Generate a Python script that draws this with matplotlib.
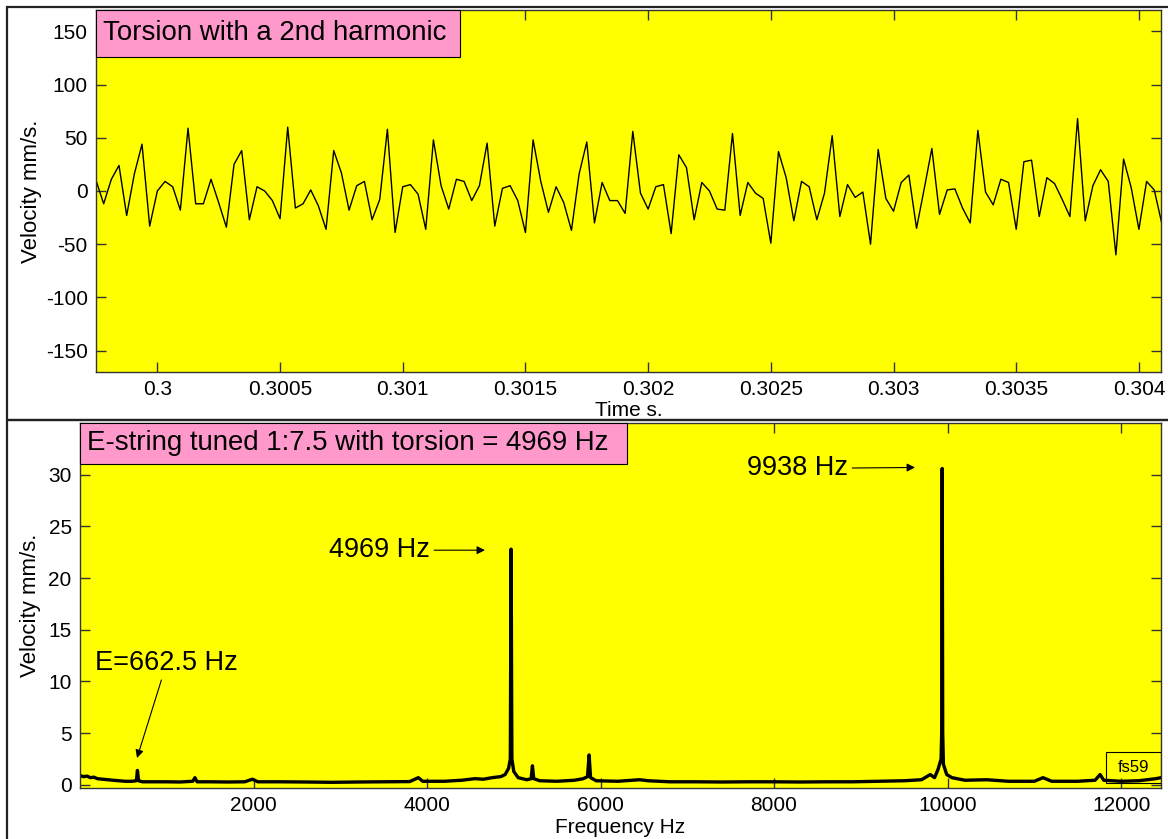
#!/usr/bin/env python3
"""Torsion waveform and its spectrum, two stacked panels."""

import matplotlib

matplotlib.use("Agg")
import matplotlib.pyplot as plt
import numpy as np
from matplotlib.patches import Rectangle

# ---- top panel: velocity samples (mm/s) ----
t_start = 0.29975
sample_rate = 32000.0
velocity = [
    10, -12, 11, 24, -23, 16, 44, -33, 0, 9, 4, -18, 59, -12, -12, 11, -11, -34,
    25, 38, -27, 4, 0, -9, -26, 60, -16, -12, 1, -14, -36, 38, 17, -18, 5, 9,
    -27, -8, 58, -39, 4, 6, -3, -36, 48, 5, -17, 11, 9, -9, 5, 45, -33, 2.5,
    5, -9, -39, 48, 9, -20, 4, -11, -37, 16, 46, -30, 8, -9, -9, -21, 56,
    -2, -17, 4, 6, -40, 34, 22, -27, 8, 0, -17, -18, 54, -23, 8, -2, -7, -49,
    37, 12.5, -28, 9, 4, -27, -2, 52, -24, 6, -6, -1, -50, 39, -7, -19, 8,
    15, -35, 2, 40, -22, 1, 2, -16, -30, 57, -1, -13, 11, 8, -36, 27.5, 29,
    -24, 12.5, 7, -8, -24, 68, -28, 5, 20, 9, -60, 30, 3, -36, 9, 1, -31,
]

# ---- bottom panel: spectrum (Hz, mm/s) ----
spec_freq = [
    0, 40, 80, 120, 160, 200, 260, 320, 380, 450, 520, 600, 650, 662, 675,
    720, 850, 1000, 1150, 1300, 1325, 1350, 1500, 1700, 1900, 1987, 2050,
    2300, 2600, 2900, 3200, 3500, 3800, 3900, 3950, 4200, 4400, 4550, 4650,
    4750, 4850, 4900, 4940, 4960, 4969, 4978, 5000, 5050, 5150, 5200, 5215,
    5230, 5300, 5500, 5700, 5800, 5850, 5868, 5885, 5950, 6200, 6450, 6550,
    6800, 7100, 7400, 7700, 8000, 8300, 8600, 8900, 9200, 9500, 9700, 9800,
    9850, 9890, 9925, 9932, 9938, 9944, 9952, 9990, 10050, 10200, 10450,
    10700, 11000, 11100, 11200, 11500, 11700, 11758, 11800, 12000, 12200,
    12400, 12460,
]
spec_amp = [
    0.9, 0.8, 0.85, 0.7, 0.75, 0.6, 0.55, 0.5, 0.45, 0.4, 0.35, 0.35, 0.4, 1.4, 0.4,
    0.3, 0.3, 0.3, 0.28, 0.35, 0.7, 0.3, 0.3, 0.28, 0.3, 0.55, 0.3,
    0.3, 0.28, 0.25, 0.28, 0.3, 0.32, 0.7, 0.35, 0.35, 0.45, 0.6, 0.55,
    0.7, 0.8, 1.0, 1.6, 2.5, 22.8, 2.5, 1.3, 0.7, 0.5, 0.6, 1.85,
    0.6, 0.4, 0.35, 0.45, 0.6, 0.8, 2.9, 0.7, 0.4, 0.35, 0.5, 0.4,
    0.3, 0.3, 0.28, 0.3, 0.3, 0.28, 0.3, 0.3, 0.35, 0.4, 0.5, 1.0,
    0.7, 1.5, 2.5, 5.0, 30.6, 5.0, 2.0, 1.0, 0.7, 0.45, 0.5,
    0.35, 0.35, 0.7, 0.35, 0.35, 0.45, 1.0, 0.45, 0.35, 0.4,
    0.6, 0.7,
]

YELLOW = "#ffff00"
PINK = "#ff99cc"
SPINE = "#333333"
FONT = ["Liberation Sans", "DejaVu Sans"]

plt.rcParams["font.family"] = FONT
plt.rcParams["axes.unicode_minus"] = False


def style_axes(ax):
    ax.set_facecolor(YELLOW)
    for sp in ax.spines.values():
        sp.set_color(SPINE)
        sp.set_linewidth(1.0)
    ax.tick_params(direction="in", length=7.5, width=1.0, color=SPINE,
                   top=True, right=True, labelsize=15, pad=6)


W, H = 1168, 839
fig = plt.figure(figsize=(W / 100, H / 100), dpi=100)
fig.patch.set_facecolor("white")


def fig_box(x0, y0, x1, y1):
    # pixel box (top-left origin) -> figure fraction rect
    return [x0 / W, 1 - y1 / H, (x1 - x0) / W, (y1 - y0) / H]


# panel frames
for (x0, y0, x1, y1) in [(7, 7, 1180, 420), (7, 420, 1180, 850)]:
    r = fig_box(x0, y0, x1, y1)
    fig.add_artist(Rectangle((r[0], r[1]), r[2], r[3], transform=fig.transFigure,
                             fill=False, edgecolor="#222222", linewidth=1.6))

# ---- top: time trace ----
ax1 = fig.add_axes(fig_box(96, 10, 1161, 372))
style_axes(ax1)
t = t_start + np.arange(len(velocity)) / sample_rate
ax1.plot(t, velocity, color="black", linewidth=1.0)
ax1.set_xlim(0.29975, 0.30409)
ax1.set_ylim(-170, 170)
ax1.set_yticks([-150, -100, -50, 0, 50, 100, 150])
ax1.set_xticks([0.3, 0.3005, 0.301, 0.3015, 0.302, 0.3025, 0.303, 0.3035, 0.304])
ax1.set_xticklabels(["0.3", "0.3005", "0.301", "0.3015", "0.302", "0.3025",
                     "0.303", "0.3035", "0.304"])
ax1.set_xlabel("Time s.", fontsize=15, labelpad=1)
ax1.set_ylabel("Velocity mm/s.", fontsize=16, labelpad=3)

ax1.add_patch(Rectangle((0, 0.870), 0.342, 0.130, transform=ax1.transAxes,
                        facecolor=PINK, edgecolor="black", linewidth=0.8,
                        zorder=5, clip_on=False))
ax1.text(0.0066, 0.9365, "Torsion with a 2nd harmonic", transform=ax1.transAxes,
         ha="left", va="center", fontsize=19.9, zorder=6)

# ---- bottom: spectrum ----
ax2 = fig.add_axes(fig_box(80, 423, 1161, 788))
style_axes(ax2)
ax2.plot(spec_freq, spec_amp, color="black", linewidth=2.4)
ax2.set_xlim(0, 12460)
ax2.set_ylim(-0.3, 35)
ax2.set_xticks([2000, 4000, 6000, 8000, 10000, 12000])
ax2.set_yticks([0, 5, 10, 15, 20, 25, 30])
ax2.set_xlabel("Frequency Hz", fontsize=15, labelpad=2)
ax2.set_ylabel("Velocity mm/s.", fontsize=16, labelpad=5)

ax2.add_patch(Rectangle((0, 0.888), 0.506, 0.112, transform=ax2.transAxes,
                        facecolor=PINK, edgecolor="black", linewidth=0.8,
                        zorder=5, clip_on=False))
ax2.text(0.0065, 0.945, "E-string tuned 1:7.5 with torsion = 4969 Hz",
         transform=ax2.transAxes, ha="left", va="center", fontsize=19.9, zorder=6)

arrow = dict(arrowstyle="-|>", color="black", linewidth=0.8,
             mutation_scale=12, shrinkA=1, shrinkB=0)
ax2.annotate("9938 Hz", xy=(9625, 30.7), xytext=(8853, 30.6),
             ha="right", va="center", fontsize=19.5, arrowprops=arrow)
ax2.annotate("4969 Hz", xy=(4668, 22.7), xytext=(4034, 22.7),
             ha="right", va="center", fontsize=19.5, arrowprops=arrow)
ax2.annotate("E=662.5 Hz", xy=(657, 2.6), xytext=(1000, 11.8),
             ha="center", va="center", fontsize=19.5, arrowprops=arrow)

ax2.add_patch(Rectangle((0.949, 0.014), 0.051, 0.085, transform=ax2.transAxes,
                        facecolor="none", edgecolor="black", linewidth=0.8,
                        zorder=5))
ax2.text(0.9745, 0.0565, "fs59", transform=ax2.transAxes, ha="center",
         va="center", fontsize=12, zorder=6)

fig.savefig("out.png", dpi=100)
